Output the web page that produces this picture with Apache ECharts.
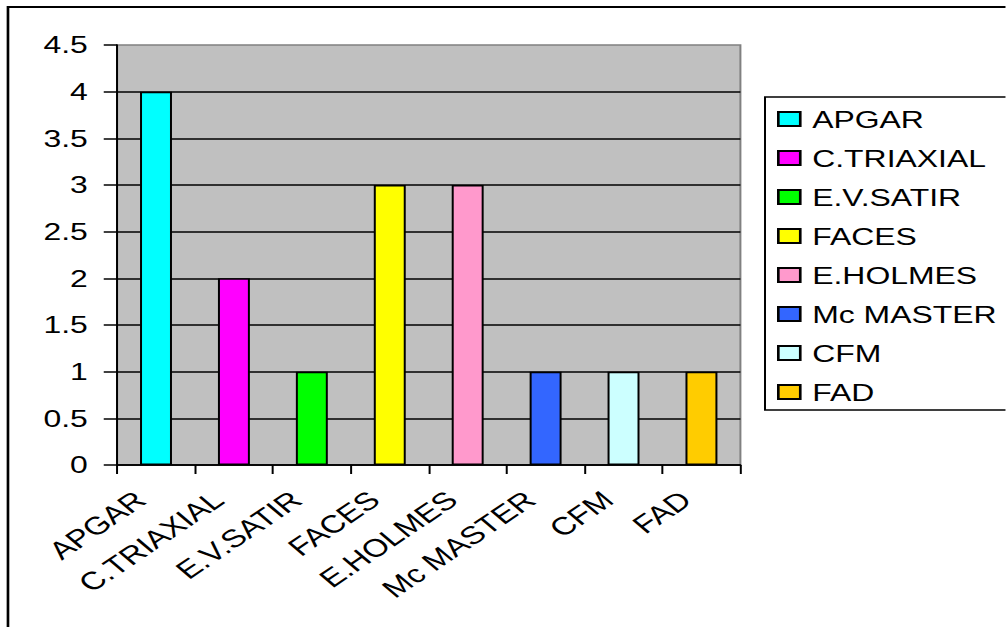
<!DOCTYPE html>
<html>
<head>
<meta charset="utf-8">
<script src="https://cdn.jsdelivr.net/npm/echarts@6/dist/echarts.min.js"></script>
<style>
  html, body { margin: 0; padding: 0; background: #fff; overflow: hidden; }
  /* the reference picture is stretched sideways, so the chart is drawn narrow and widened */
  #main { width: 756.4px; height: 627px; transform: scaleX(1.33); transform-origin: 0 0; }
</style>
</head>
<body>
<div id="main"></div>
<script>
const categories = ["APGAR", "C.TRIAXIAL", "E.V.SATIR", "FACES", "E.HOLMES", "Mc MASTER", "CFM", "FAD"];
const values = [4, 2, 1, 3, 3, 1, 1, 1];
const colors = ["#00FFFF", "#FF00FF", "#00FF00", "#FFFF00", "#FF99CC", "#3366FF", "#CCFFFF", "#FFCC00"];
const yTicks = { min: 0, max: 4.5, interval: 0.5 };

const font = "'Liberation Sans', Arial, sans-serif";

// one series per category so the legend lists each one; stacked so they share a slot
const series = categories.map((name, i) => ({
    name: name,
    type: "bar",
    stack: "all",
    barWidth: "41%",
    data: categories.map((_, j) => (j === i ? values[i] : "-")),
    itemStyle: { color: colors[i], borderColor: "#000", borderWidth: 1.5 }
}));

const chart = echarts.init(document.getElementById("main"), null, { renderer: "svg" });
chart.setOption({
    animation: false,
    textStyle: { fontFamily: font },
    graphic: [{
        // outer chart frame: only top and left show in the reference
        type: "polyline",
        shape: { points: [[6, 700], [6, 7], [800, 7]] },
        style: { fill: "none", stroke: "#000", lineWidth: 2 },
        silent: true
    }, {
        // legend box, open on the right where the picture is cut off
        type: "polyline",
        shape: { points: [[800, 97], [575.2, 97], [575.2, 410], [800, 410]] },
        style: { fill: "none", stroke: "#000", lineWidth: 1.5 },
        silent: true
    }],
    grid: {
        left: 88, right: 199.3, top: 45, bottom: 162,
        show: true, backgroundColor: "#C0C0C0", borderColor: "#808080", borderWidth: 1.5
    },
    legend: {
        orient: "vertical",
        left: 575.2, top: 97,
        padding: [10, 10, 5, 9],
        itemWidth: 16.5, itemHeight: 14, itemGap: 15,
        icon: "rect",
        textStyle: { fontSize: 24, lineHeight: 24, color: "#000", fontFamily: font, padding: [0, 0, 0, 4] },
        data: categories
    },
    xAxis: {
        type: "category",
        data: categories,
        axisLine: { lineStyle: { color: "#000", width: 1.5 } },
        axisTick: { show: true, length: 9, lineStyle: { color: "#000", width: 1.5 } },
        axisLabel: { rotate: 42, margin: 20, padding: [0, 16, 0, 0], fontSize: 25, color: "#000", fontFamily: font, interval: 0 }
    },
    yAxis: {
        type: "value",
        min: yTicks.min, max: yTicks.max, interval: yTicks.interval,
        axisLine: { show: true, lineStyle: { color: "#000", width: 1.5 } },
        axisTick: { show: true, length: 10, lineStyle: { color: "#000", width: 1.5 } },
        axisLabel: { margin: 22, fontSize: 24, color: "#000", fontFamily: font },
        splitLine: { show: true, showMaxLine: false, lineStyle: { color: "#000", width: 1.5 } }
    },
    series: series
});
</script>
</body>
</html>
